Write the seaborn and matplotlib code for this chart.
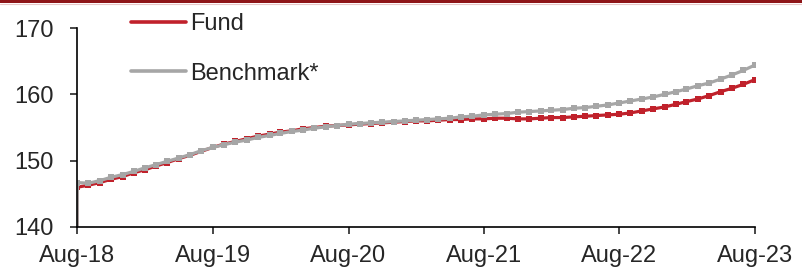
import pandas as pd
import seaborn as sns
from matplotlib import pyplot as plt
from matplotlib.lines import Line2D

# monthly values (Aug-18 .. Aug-23), rebased series
fund = [146.0, 146.3, 146.7, 147.2, 147.6, 148.2, 148.6, 149.2, 149.7, 150.3, 150.8, 151.4, 152.0,
        152.5, 152.9, 153.3, 153.7, 154.0, 154.3, 154.5, 154.8, 155.0, 155.2, 155.3, 155.4,
        155.5, 155.6, 155.7, 155.8, 155.9, 156.0, 156.0, 156.1, 156.2, 156.2, 156.3, 156.3,
        156.4, 156.4, 156.3, 156.3, 156.4, 156.5, 156.5, 156.6, 156.7, 156.8, 156.9, 157.0,
        157.2, 157.5, 157.8, 158.1, 158.5, 158.9, 159.3, 159.8, 160.4, 160.9, 161.5, 162.2]
benchmark = [146.7, 146.6, 147.0, 147.5, 147.9, 148.4, 148.9, 149.4, 149.9, 150.4, 150.9, 151.5, 152.0,
             152.4, 152.8, 153.1, 153.5, 153.8, 154.1, 154.4, 154.6, 154.9, 155.1, 155.3, 155.5,
             155.6, 155.7, 155.8, 155.9, 156.0, 156.1, 156.2, 156.3, 156.4, 156.6, 156.7, 156.9,
             157.0, 157.1, 157.3, 157.4, 157.5, 157.6, 157.7, 157.9, 158.0, 158.2, 158.4, 158.7,
             159.0, 159.3, 159.6, 160.0, 160.4, 160.8, 161.3, 161.7, 162.3, 162.9, 163.6, 164.4]
base_value = 100.0  # both series start from the rebase level the day before
tick_labels = ['Aug-18', 'Aug-19', 'Aug-20', 'Aug-21', 'Aug-22', 'Aug-23']

dates = pd.date_range('2018-08-31', '2023-08-31', freq='ME')
base_date = dates[0] - pd.Timedelta(days=1)
all_dates = [base_date] + list(dates)

df = pd.DataFrame({
    'date': all_dates * 2,
    'value': [base_value] + fund + [base_value] + benchmark,
    'series': ['Fund'] * (len(fund) + 1) + ['Benchmark*'] * (len(benchmark) + 1),
})

sns.set_style('white')
plt.rcParams['font.family'] = ['Liberation Sans', 'DejaVu Sans']

fig = plt.figure(figsize=(8.02, 2.68), dpi=100)
ax = fig.add_axes([0.096, 0.153, 0.845, 0.7425])

sns.lineplot(data=df, x='date', y='value', hue='series',
             palette={'Fund': '#C0212B', 'Benchmark*': '#A6A6A6'},
             hue_order=['Fund', 'Benchmark*'],
             linewidth=2.3, marker='s', markersize=4.8,
             markeredgewidth=0, ax=ax, legend=False)

ax.set_ylim(140, 170)
ax.set_yticks([140, 150, 160, 170])
ax.set_xlim(base_date, dates[-1])
ax.set_xticks(dates[::12])
ax.set_xticklabels(tick_labels)
ax.set_xlabel('')
ax.set_ylabel('')
for s in ['top', 'right']:
    ax.spines[s].set_visible(False)
for s in ['left', 'bottom']:
    ax.spines[s].set_color('black')
    ax.spines[s].set_linewidth(1.2)
ax.tick_params(axis='y', direction='out', length=5, width=1.2, pad=12, labelsize=17, left=True)
ax.tick_params(axis='x', direction='out', length=5, width=1.2, pad=8, labelsize=17, bottom=True)

handles = [Line2D([], [], color='#C0212B', lw=2.6), Line2D([], [], color='#A6A6A6', lw=2.6)]
ax.legend(handles, ['Fund', 'Benchmark*'], loc='upper left', bbox_to_anchor=(0.152, 0.985),
          bbox_transform=fig.transFigure, frameon=False, fontsize=17,
          handlelength=2.3, handletextpad=0.2, labelspacing=1.15, borderaxespad=0)

# dark red band across the top
fig.add_artist(plt.Rectangle((0, 0.989), 1, 0.011, transform=fig.transFigure,
                             color='#8E1518', lw=0))
fig.add_artist(Line2D([0, 1], [0.986, 0.986], transform=fig.transFigure,
                      color='#E8C8C8', lw=0.8))

fig.savefig('out.png', dpi=100)
